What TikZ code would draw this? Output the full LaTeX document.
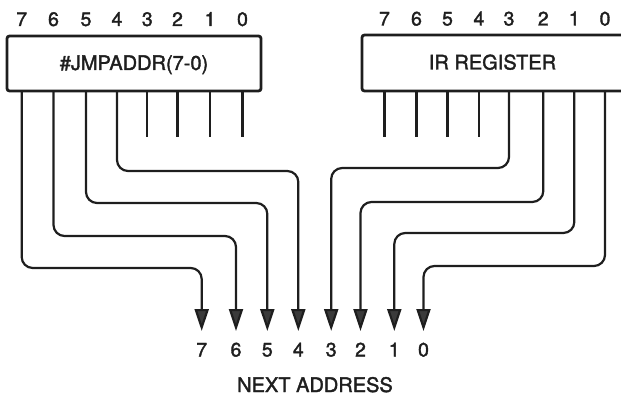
\documentclass[tikz,border=0pt]{standalone}
\usepackage{fontspec}
\setmainfont{TeX Gyre Heros}
\newfontfamily\medfont[FakeBold=1.8]{TeX Gyre Heros}
\usetikzlibrary{arrows.meta}
\definecolor{ink}{HTML}{1E1E1E}
\definecolor{tipgray}{HTML}{3A3A3A}
\tikzset{
  x=1pt, y=1pt,
  regbox/.style={draw=ink, line width=2.8pt, rounded corners=2.5pt},
  wire/.style={draw=ink, line width=2.2pt, rounded corners=11pt},
  pin/.style={draw=ink, line width=2.2pt},
  arrowwire/.style={wire, -{Triangle[length=22pt,width=14pt,fill=tipgray]}},
  bitlbl/.style={font=\medfont\fontsize{19.5}{21}\selectfont, text=ink, inner sep=0pt, anchor=base, text depth=0pt},
  boxlbl/.style={font=\medfont\fontsize{20}{22}\selectfont, text=ink, inner sep=0pt, anchor=base, text depth=0pt},
}
\begin{document}
\begin{tikzpicture}
\useasboundingbox (0,0) rectangle (621,397);
% boxes
\draw[regbox] (7,306) rectangle (261,361);
\node[boxlbl] (jmp) at (134,327) {\#JMPADDR(7-0)};
\draw[regbox] (362,306) rectangle (626,362);
\node[boxlbl] (ir) at (492.5,327.5) {IR REGISTER};
% top bit labels
\foreach \b/\x in {7/21.7,6/53.5,5/86,4/117,3/147.3,2/177.5,1/210,0/242.5}{
  \node[bitlbl] (jt\b) at (\x,371) {\b};
  \coordinate (j\b) at (\x,306);
}
\foreach \b/\x in {7/384.5,6/416.5,5/447.5,4/479,3/509,2/543.3,1/574.3,0/605}{
  \node[bitlbl] (it\b) at (\x,371.5) {\b};
  \coordinate (i\b) at (\x,306);
}
% bottom labels and arrow ends
\foreach \b/\x in {7/201.7,6/236,5/267.3,4/298.3,3/331.2,2/360.5,1/394.3,0/423.5}{
  \node[bitlbl] (n\b) at (\x,40.5) {\b};
  \coordinate (a\b) at (\x,66);
}
\node[boxlbl] (next) at (315,5) {NEXT ADDRESS};
% short pins
\foreach \b in {3,2,1,0}{ \draw[pin] (j\b) -- ++(0,-46); }
\foreach \b in {7,6,5,4}{ \draw[pin] (i\b) -- ++(0,-46); }
% wires from JMPADDR
\draw[arrowwire] (j7) |- (a7 |- 0,129) -- (a7);
\draw[arrowwire] (j6) |- (a6 |- 0,161) -- (a6);
\draw[arrowwire] (j5) |- (a5 |- 0,194) -- (a5);
\draw[arrowwire] (j4) |- (a4 |- 0,226) -- (a4);
% wires from IR
\draw[arrowwire] (i3) |- (a3 |- 0,229) -- (a3);
\draw[arrowwire] (i2) |- (a2 |- 0,195) -- (a2);
\draw[arrowwire] (i1) |- (a1 |- 0,164) -- (a1);
\draw[arrowwire] (i0) |- (a0 |- 0,131) -- (a0);
\end{tikzpicture}
\end{document}
